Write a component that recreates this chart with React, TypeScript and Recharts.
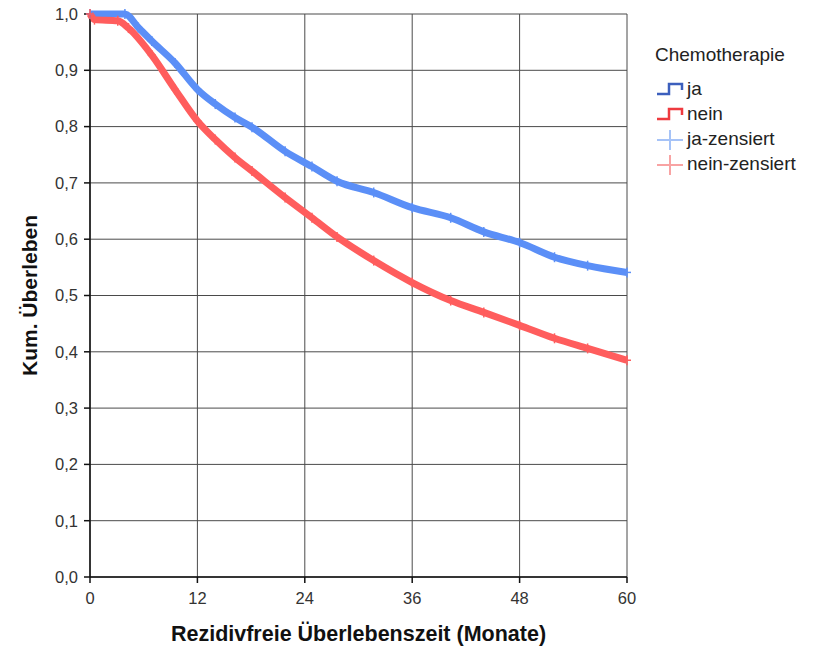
import React from 'react'
import { CartesianGrid, Line, LineChart, XAxis, YAxis } from 'recharts'

const jaMonths = [0, 3.9, 5.4, 6.9, 9.5, 12, 14, 16.2, 18.1, 21.8, 24.8, 27.6, 31.7, 36, 40.3, 44, 48, 51.9, 55.6, 60]
const jaSurvival = [1.0, 1.0, 0.976, 0.952, 0.913, 0.866, 0.84, 0.816, 0.799, 0.756, 0.729, 0.703, 0.683, 0.656, 0.638, 0.613, 0.594, 0.568, 0.553, 0.541]

const neinMonths = [0, 0.5, 3.1, 4.3, 6.9, 9.5, 12, 14, 16.2, 18.1, 21.8, 24.8, 27.6, 31.7, 36, 40.3, 44, 48, 51.9, 55.6, 60]
const neinSurvival = [1.0, 0.99, 0.988, 0.975, 0.927, 0.866, 0.81, 0.777, 0.745, 0.721, 0.674, 0.638, 0.604, 0.562, 0.523, 0.491, 0.47, 0.447, 0.424, 0.406, 0.385]

const xTicks = [0, 12, 24, 36, 48, 60]
const yTicks = [0, 0.1, 0.2, 0.3, 0.4, 0.5, 0.6, 0.7, 0.8, 0.9, 1.0]

const jaData = jaMonths.map((m, i) => ({ month: m, value: jaSurvival[i] }))
const neinData = neinMonths.map((m, i) => ({ month: m, value: neinSurvival[i] }))

const BLUE = '#5b8ff7'
const RED = '#ff5d5d'

const font = '"Liberation Sans", Arial, sans-serif'

function Cross(props: any) {
  const { cx, cy, stroke } = props
  if (cx == null || cy == null) return null
  return (
    <g stroke={stroke} strokeWidth={1.5}>
      <line x1={cx - 4} x2={cx + 4} y1={cy} y2={cy} />
      <line x1={cx} x2={cx} y1={cy - 5} y2={cy + 5} />
    </g>
  )
}

function YTitle(props: any) {
  const { viewBox } = props
  const x = viewBox.x + 37
  const y = viewBox.y + viewBox.height / 2
  return (
    <text x={x} y={y} transform={`rotate(-90 ${x} ${y})`} textAnchor="middle"
      style={{ fontFamily: font, fontSize: 21, fontWeight: 700, fill: '#111' }}>
      Kum. Überleben
    </text>
  )
}

function XTitle(props: any) {
  const { viewBox } = props
  return (
    <text x={viewBox.x + viewBox.width / 2} y={641} textAnchor="middle"
      style={{ fontFamily: font, fontSize: 21.5, fontWeight: 700, fill: '#111' }}>
      Rezidivfreie Überlebenszeit (Monate)
    </text>
  )
}

const legendItems = [
  { name: 'ja', color: '#3c5fbd', kind: 'step' },
  { name: 'nein', color: '#ee3a3f', kind: 'step' },
  { name: 'ja-zensiert', color: '#a6c3f7', kind: 'cross' },
  { name: 'nein-zensiert', color: '#f8a3a3', kind: 'cross' },
]

function KmLegend() {
  return (
    <div style={{ position: 'absolute', left: 655, top: 44, width: 165, fontFamily: font, color: '#222', fontSize: 19 }}>
      <div style={{ marginBottom: 10 }}>Chemotherapie</div>
      {legendItems.map((it) => (
        <div key={it.name} style={{ display: 'flex', alignItems: 'center', height: 25 }}>
          <svg width={30} height={22} style={{ marginRight: 2 }}>
            {it.kind === 'step' ? (
              <polyline points="2,16 14,16 14,6 27,6 27,12" fill="none" stroke={it.color} strokeWidth={2.5} />
            ) : (
              <g stroke={it.color} strokeWidth={2}>
                <line x1={2} x2={28} y1={12} y2={12} />
                <line x1={15} x2={15} y1={2} y2={22} />
              </g>
            )}
          </svg>
          <span>{it.name}</span>
        </div>
      ))}
    </div>
  )
}

export default function App() {
  return (
    <div style={{ position: 'absolute', left: 0, top: 0, width: 820, height: 646, background: '#fff' }}>
      <LineChart width={820} height={646} margin={{ top: 14, right: 193, bottom: 0, left: 0 }}>
        <CartesianGrid stroke="#4a4a4a" strokeWidth={1} />
        <XAxis
          type="number"
          dataKey="month"
          domain={[0, 60]}
          ticks={xTicks}
          height={69}
          tickSize={6}
          tickMargin={9}
          stroke="#111"
          strokeWidth={1.5}
          tick={{ fontFamily: font, fontSize: 16.5, fill: '#333' }}
          label={<XTitle />}
        />
        <YAxis
          type="number"
          domain={[0, 1]}
          ticks={yTicks}
          width={90}
          tickSize={6}
          tickMargin={6}
          stroke="#111"
          strokeWidth={1.5}
          tick={{ fontFamily: font, fontSize: 16.5, fill: '#333' }}
          tickFormatter={(v: number) => v.toFixed(1).replace('.', ',')}
          label={<YTitle />}
        />
        <Line data={jaData} dataKey="value" type="monotone" stroke={BLUE} strokeWidth={7}
          dot={<Cross stroke={BLUE} />} isAnimationActive={false} />
        <Line data={neinData} dataKey="value" type="monotone" stroke={RED} strokeWidth={7}
          dot={<Cross stroke={RED} />} isAnimationActive={false} />
      </LineChart>
      <KmLegend />
    </div>
  )
}
